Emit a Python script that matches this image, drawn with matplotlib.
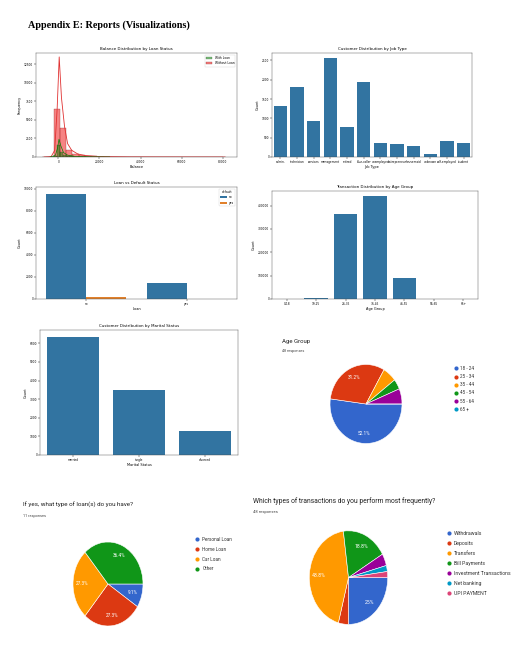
import matplotlib
matplotlib.use("Agg")
import matplotlib.pyplot as plt
from matplotlib.patches import Patch

W, H = 515, 650

# ---- balance histogram ----
bal_no_start, bal_no_width = -7800, 2935
bal_no_counts = [5, 60, 6520, 3960, 990, 440, 210, 120, 70, 45, 30, 20, 15, 10,
                 8, 6, 5, 4, 3, 3, 2, 2, 1, 1, 1, 1, 0, 0, 1, 1]
bal_yes_start, bal_yes_width = -4130, 1650
bal_yes_counts = [10, 90, 1680, 700, 330, 160, 90, 50, 30, 20, 12, 8, 5, 3, 2, 1]
kde_no_x = [-7000, -3500, -1800, -600, 400, 1500, 3000, 4500, 6500, 9500, 13000, 20000, 35000, 60000, 81200]
kde_no_y = [0, 60, 900, 6500, 13500, 8000, 4100, 1800, 900, 400, 200, 60, 15, 3, 0]
kde_yes_x = [-4000, -1500, -400, 300, 1200, 2500, 4500, 8000, 15000, 25000]
kde_yes_y = [0, 200, 1200, 2400, 1500, 600, 250, 80, 20, 0]

# ---- job type ----
jobs = ['admin.', 'technician', 'services', 'management', 'retired', 'blue-collar',
        'unemployed', 'entrepreneur', 'housemaid', 'unknown', 'self-employed', 'student']
job_counts = [1334, 1823, 923, 2566, 778, 1944, 357, 328, 274, 70, 405, 360]

# ---- loan vs default ----
loan_cats = ['no', 'yes']
default_no = [9560, 1434]
default_yes = [142, 26]

# ---- age group transactions ----
age_bins = ['0-18', '19-25', '26-35', '36-45', '46-55', '56-65', '65+']
age_tx = [0, 3000, 366000, 441000, 89000, 300, 0]

# ---- marital ----
marital = ['married', 'single', 'divorced']
marital_counts = [6351, 3518, 1293]

# ---- survey pies ----
gcol = ['#3366cc', '#dc3912', '#ff9900', '#109618', '#990099', '#0099c6', '#dd4477']
age_labels = ['18 - 24', '25 - 34', '35 - 44', '45 - 54', '55 - 64', '65 +']
age_counts = [25, 15, 3, 2, 3, 0]
loan_labels = ['Personal Loan', 'Home Loan', 'Car Loan', 'Other']
loan_counts = [1, 3, 3, 4]
tx_labels = ['Withdrawals', 'Deposits', 'Transfers', 'Bill Payments',
             'Investment Transactions', 'Net banking', 'UPI PAYMENT']
tx_counts = [12, 2, 21, 9, 2, 1, 1]

BLUE = '#3274a1'
ORANGE = '#e1812c'


def rect(l, t, r, b):
    return [l / W, 1 - b / H, (r - l) / W, (b - t) / H]


def style(ax, title, xlabel, ylabel):
    ax.set_title(title, fontsize=2.9, pad=2)
    ax.set_xlabel(xlabel, fontsize=2.5, labelpad=1)
    ax.set_ylabel(ylabel, fontsize=2.5, labelpad=1.5)
    ax.tick_params(labelsize=2.1, length=1.2, width=0.3, pad=0.8)
    for s in ax.spines.values():
        s.set_linewidth(0.3)
        s.set_color('#444')


def pct(p):
    if p < 7.5:
        return ''
    s = f"{p:.1f}"
    return s[:-2] + '%' if s.endswith('.0') else s + '%'


fig = plt.figure(figsize=(W / 100, H / 100), dpi=100)
page = fig.add_axes([0, 0, 1, 1])
page.set_xlim(0, W)
page.set_ylim(H, 0)
page.axis('off')

page.text(28, 25, "Appendix E: Reports (Visualizations)", fontsize=7.3, fontweight='bold',
          family='Liberation Serif', va='center', ha='left')

# balance histogram
ax = fig.add_axes(rect(36, 53, 237, 157))
ax.bar([bal_no_start + i * bal_no_width for i in range(len(bal_no_counts))], bal_no_counts,
       width=bal_no_width, align='edge', color='#f03030', alpha=0.6, edgecolor='#7a0000', linewidth=0.3)
ax.bar([bal_yes_start + i * bal_yes_width for i in range(len(bal_yes_counts))], bal_yes_counts,
       width=bal_yes_width, align='edge', color='green', alpha=0.5, edgecolor='#003300', linewidth=0.3)
ax.plot(kde_no_x, kde_no_y, color='#e03030', lw=0.6)
ax.plot(kde_yes_x, kde_yes_y, color='green', lw=0.5)
ax.set_xlim(-10900, 87000)
ax.set_ylim(0, 14030)
ax.set_xticks([0, 20000, 40000, 60000, 80000])
ax.set_yticks([0, 2500, 5000, 7500, 10000, 12500])
style(ax, 'Balance Distribution by Loan Status', 'Balance', 'Frequency')
ax.legend(handles=[Patch(facecolor='green', alpha=0.5, edgecolor='#003300', lw=0.3, label='With Loan'),
                   Patch(facecolor='#f03030', alpha=0.6, edgecolor='#7a0000', lw=0.3, label='Without Loan')],
          loc='upper right', fontsize=2.2, frameon=True, handlelength=2, borderpad=0.4,
          framealpha=0.8, edgecolor='#ccc').get_frame().set_linewidth(0.3)

# job type
ax = fig.add_axes(rect(272, 53, 472, 157))
ax.bar(jobs, job_counts, width=0.8, color=BLUE)
ax.set_xlim(-0.5, len(jobs) - 0.5)
ax.set_ylim(0, 2694)
style(ax, 'Customer Distribution by Job Type', 'Job Type', 'Count')

# loan vs default
ax = fig.add_axes(rect(36, 187, 237, 299))
xs = range(len(loan_cats))
ax.bar([x - 0.2 for x in xs], default_no, width=0.4, color=BLUE, label='no')
ax.bar([x + 0.2 for x in xs], default_yes, width=0.4, color=ORANGE, label='yes')
ax.set_xticks(list(xs))
ax.set_xticklabels(loan_cats)
ax.set_xlim(-0.5, 1.5)
ax.set_ylim(0, 10180)
style(ax, 'Loan vs Default Status', 'Loan', 'Count')
lg = ax.legend(title='default', fontsize=2.2, title_fontsize=2.2, loc='upper right',
               handlelength=2, borderpad=0.4, framealpha=0.8, edgecolor='#ccc')
lg.get_frame().set_linewidth(0.3)

# transactions by age group
ax = fig.add_axes(rect(272, 191, 478, 299))
ax.bar(age_bins, age_tx, width=0.8, color=BLUE)
ax.set_xlim(-0.5, len(age_bins) - 0.5)
ax.set_ylim(0, 462600)
style(ax, 'Transaction Distribution by Age Group', 'Age Group', 'Count')

# marital status
ax = fig.add_axes(rect(40, 330, 238, 455))
ax.bar(marital, marital_counts, width=0.8, color=BLUE)
ax.set_xlim(-0.5, len(marital) - 0.5)
ax.set_ylim(0, 6714)
style(ax, 'Customer Distribution by Marital Status', 'Marital Status', 'Count')


def survey_pie(cx, cy, rx, ry, counts, fs):
    a = fig.add_axes(rect(cx - 1.1 * rx, cy - 1.1 * ry, cx + 1.1 * rx, cy + 1.1 * ry))
    a.pie(counts, colors=gcol[:len(counts)], startangle=0, counterclock=False,
          autopct=pct, pctdistance=0.75,
          wedgeprops=dict(edgecolor='white', linewidth=0.4),
          textprops=dict(color='white', fontsize=fs, family='Roboto'))
    a.set_aspect('auto')
    a.set_xlim(-1.1, 1.1)
    a.set_ylim(-1.1, 1.1)
    a.axis('off')


def legend(x, y0, dy, labels, fs):
    for i, lab in enumerate(labels):
        y = y0 + i * dy
        page.scatter([x], [y], s=9, color=gcol[i], linewidths=0)
        page.text(x + 5, y, lab, fontsize=fs, va='center', ha='left', family='Roboto', color='#333')


# Age group pie
page.text(282, 342, 'Age Group', fontsize=4.3, family='Roboto', va='center', color='#222')
page.text(282, 351, '48 responses', fontsize=2.7, family='Roboto', va='center', color='#444')
survey_pie(366, 404, 36, 39.5, age_counts, 3.4)
legend(455.5, 368.3, 8.2, age_labels, 3.3)

# loan type pie
page.text(23, 505, 'If yes, what type of loan(s) do you have?', fontsize=4.5, family='Roboto',
          va='center', color='#222')
page.text(23, 516.5, '11 responses', fontsize=2.8, family='Roboto', va='center', color='#444')
survey_pie(108, 584, 35, 42, loan_counts, 3.4)
legend(197.3, 539.3, 9.9, loan_labels, 3.3)

# transaction type pie
page.text(252.7, 500.7, 'Which types of transactions do you perform most frequently?', fontsize=4.9,
          family='Roboto', va='center', color='#222')
page.text(252.7, 511.7, '48 responses', fontsize=3.0, family='Roboto', va='center', color='#444')
survey_pie(348.5, 577.6, 39.2, 46.8, tx_counts, 3.7)
legend(449, 533.3, 10, tx_labels, 3.7)

fig.savefig('out.png', dpi=100)
